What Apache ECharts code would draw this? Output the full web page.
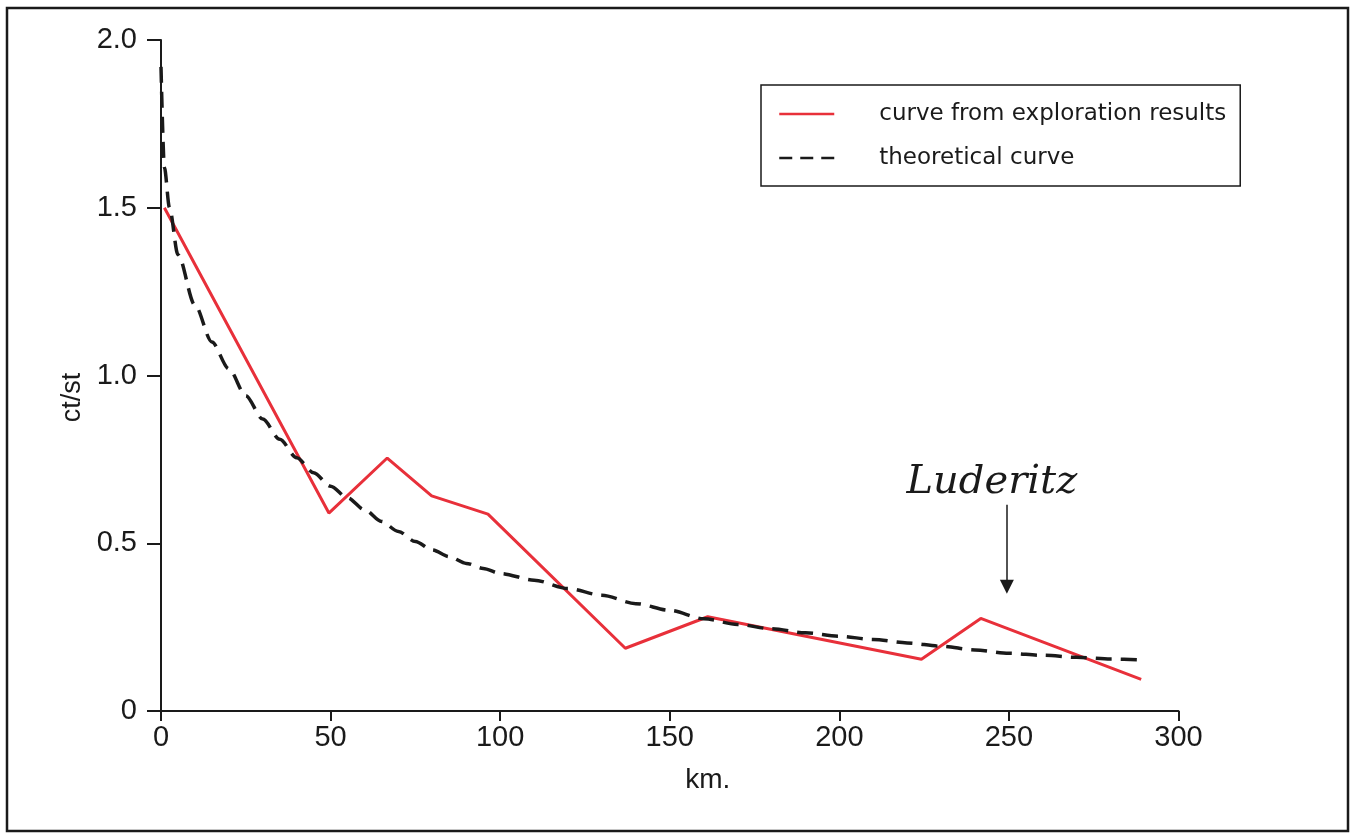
<!DOCTYPE html>
<html>
<head>
<meta charset="utf-8">
<script src="https://cdn.jsdelivr.net/npm/echarts@6/dist/echarts.min.js"></script>
<style>
  html, body { margin: 0; padding: 0; background: #fff; }
  #chart { width: 1351px; height: 840px; }
</style>
</head>
<body>
<div id="chart"></div>
<script>
// axis tick labels
const xTickLabels = ["0", "50", "100", "150", "200", "250", "300"];
const yTickLabels = ["0", "0.5", "1.0", "1.5", "2.0"];

// curve from exploration results (km, ct/st)
const exploreKm = [1, 49.5, 66.7, 79.8, 96.4, 136.9, 161.2, 224.2, 241.7, 289];
const exploreCtSt = [1.5, 0.59, 0.754, 0.641, 0.587, 0.187, 0.281, 0.154, 0.276, 0.094];

// theoretical curve (km, ct/st)
const theoryKm = [0, 1, 2.5, 5, 10, 15, 20, 25, 30, 35, 40, 45, 50, 55, 60, 65, 70, 75, 80, 85, 90, 95, 100,
  110, 120, 130, 140, 150, 160, 170, 180, 190, 200, 210, 220, 230, 240, 250, 260, 270, 280, 289];
const theoryCtSt = [1.92, 1.62, 1.5, 1.36, 1.21, 1.1, 1.02, 0.94, 0.87, 0.81, 0.755, 0.71, 0.67, 0.635, 0.6, 0.565, 0.535, 0.505, 0.48, 0.46, 0.44, 0.425, 0.41,
  0.39, 0.365, 0.345, 0.32, 0.3, 0.275, 0.258, 0.245, 0.233, 0.223, 0.213, 0.203, 0.193, 0.182, 0.172, 0.166, 0.16, 0.155, 0.152];

// Luderitz arrow (km, ct/st top -> tip)
const luderitzKm = 249.4;
const luderitzFrom = 0.615;
const luderitzTo = 0.37;

const el = document.getElementById("chart");
const chart = echarts.init(el);

const axisFont = "Liberation Sans";

const options = {
  animation: false,
  backgroundColor: "#fff",
  graphic: [
    {
      type: "rect",
      shape: { x: 7, y: 8, width: 1341, height: 823 },
      style: { fill: "none", stroke: "#1a1a1a", lineWidth: 2.5 },
      silent: true,
    },
  ],
  grid: {
    left: 161,
    right: 172.5,
    top: 40,
    bottom: 129,
  },
  legend: {
    orient: "vertical",
    left: 761,
    top: 85,
    padding: [16, 14, 15, 17],
    borderColor: "#1a1a1a",
    borderWidth: 1.5,
    itemWidth: 55,
    itemHeight: 14,
    itemGap: 18,
    selectedMode: false,
    textStyle: {
      fontFamily: "DejaVu Sans",
      fontSize: 23,
      lineHeight: 26,
      color: "#1a1a1a",
      padding: [0, 0, 0, 40],
    },
    data: [
      {
        name: "curve from exploration results",
        itemStyle: { opacity: 0 },
        lineStyle: { color: "#e8303a", width: 2.5, type: "solid" },
      },
      {
        name: "theoretical curve",
        itemStyle: { opacity: 0 },
        lineStyle: { color: "#1a1a1a", width: 2.5, type: [13, 8] },
      },
    ],
  },
  xAxis: {
    type: "value",
    min: 0,
    max: 300,
    interval: 50,
    name: "km.",
    nameLocation: "middle",
    nameGap: 55,
    nameTextStyle: {
      fontFamily: axisFont,
      fontSize: 28,
      color: "#1a1a1a",
      padding: [0, 0, 0, 76],
    },
    axisLine: { lineStyle: { color: "#1a1a1a", width: 2 } },
    axisTick: { length: 10, lineStyle: { color: "#1a1a1a", width: 2 } },
    axisLabel: {
      margin: 12,
      fontFamily: axisFont,
      fontSize: 29,
      color: "#1a1a1a",
      formatter: (v, i) => xTickLabels[i],
    },
    splitLine: { show: false },
  },
  yAxis: {
    type: "value",
    min: 0,
    max: 2,
    interval: 0.5,
    name: "ct/st",
    nameLocation: "middle",
    nameGap: 72,
    nameTextStyle: {
      fontFamily: axisFont,
      fontSize: 27,
      color: "#1a1a1a",
      padding: [0, 44, 0, 0],
    },
    axisLine: { show: true, lineStyle: { color: "#1a1a1a", width: 2 } },
    axisTick: { show: true, length: 14, lineStyle: { color: "#1a1a1a", width: 2 } },
    axisLabel: {
      margin: 24,
      fontFamily: axisFont,
      fontSize: 29,
      color: "#1a1a1a",
      formatter: (v, i) => yTickLabels[i],
    },
    splitLine: { show: false },
  },
  series: [
    {
      name: "curve from exploration results",
      type: "line",
      symbol: "none",
      data: exploreKm.map((k, i) => [k, exploreCtSt[i]]),
      lineStyle: { color: "#e8303a", width: 3 },
      itemStyle: { color: "#e8303a" },
      z: 2,
      markLine: {
        silent: true,
        symbol: ["none", "triangle"],
        symbolSize: 14,
        lineStyle: { color: "#1a1a1a", width: 1.5, type: "solid" },
        label: {
          show: true,
          position: "start",
          distance: 2,
          formatter: "Luderitz",
          fontFamily: "DejaVu Serif",
          fontStyle: "italic",
          fontSize: 40,
          color: "#1a1a1a",
          padding: [0, 30, 0, 0],
        },
        data: [
          [
            { coord: [luderitzKm, luderitzFrom] },
            { coord: [luderitzKm, luderitzTo] },
          ],
        ],
      },
    },
    {
      name: "theoretical curve",
      type: "line",
      symbol: "none",
      smooth: 0.3,
      smoothMonotone: "x",
      data: theoryKm.map((k, i) => [k, theoryCtSt[i]]),
      lineStyle: { color: "#1a1a1a", width: 3.5, type: [16, 9] },
      itemStyle: { color: "#1a1a1a" },
      z: 3,
    },
  ],
};

chart.setOption(options);
</script>
</body>
</html>
